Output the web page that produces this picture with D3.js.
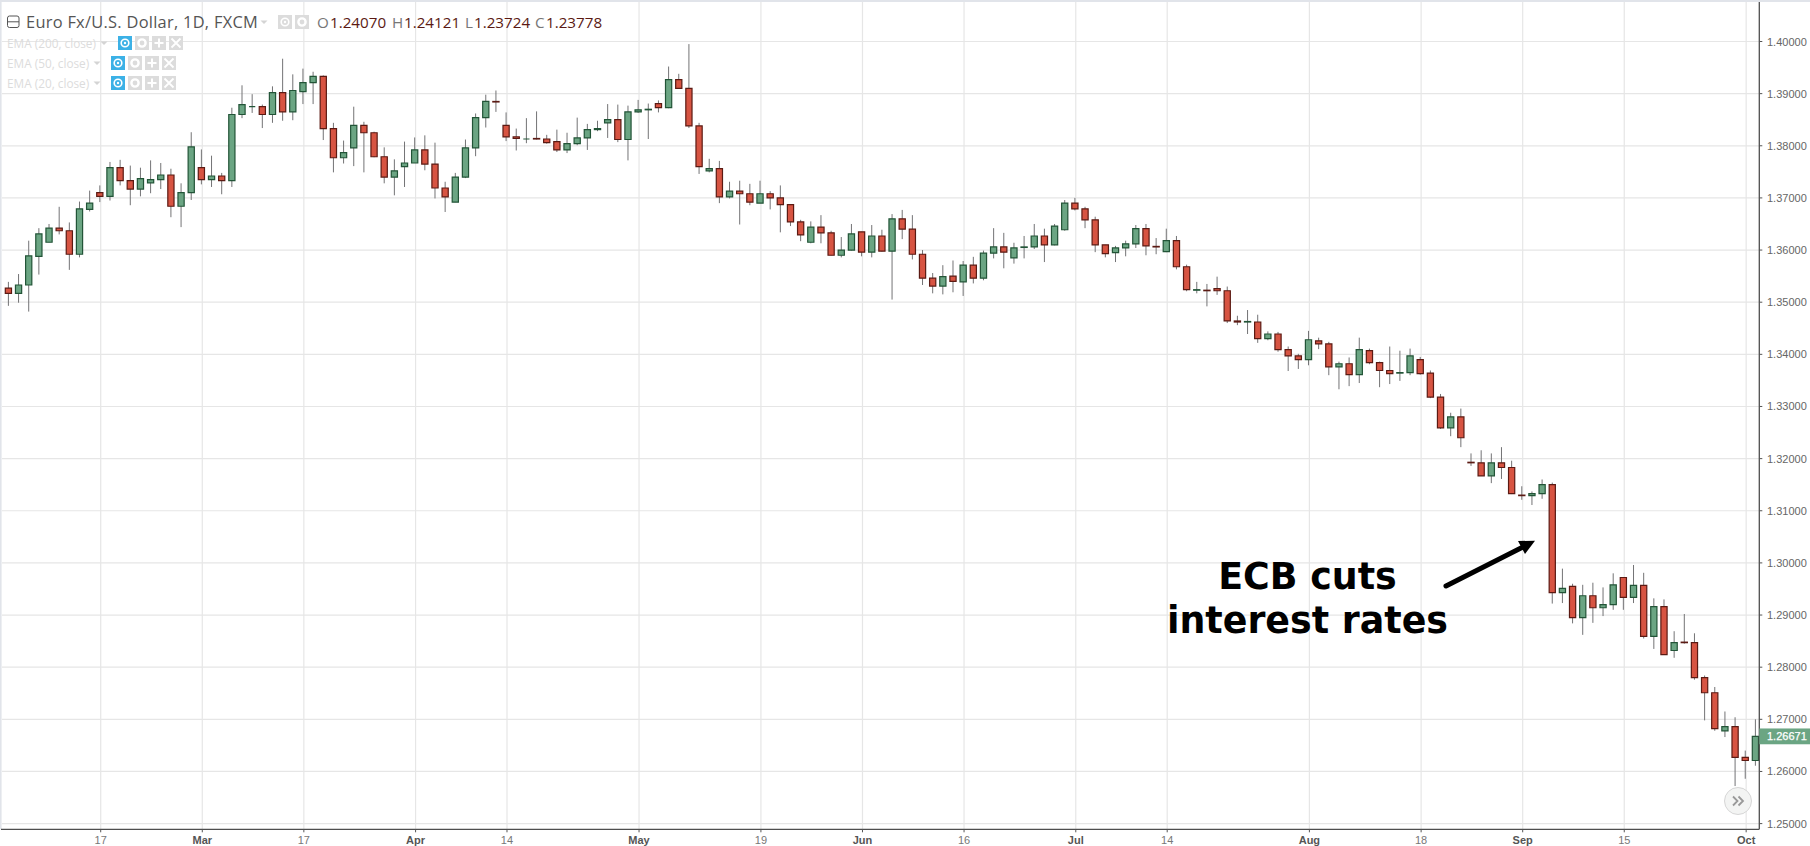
<!DOCTYPE html>
<html><head><meta charset="utf-8">
<style>html,body{margin:0;padding:0;background:#fff;overflow:hidden}svg{display:block}</style>
<script src="https://cdn.jsdelivr.net/npm/d3@7"></script></head><body><div id="c"></div>
<script>
const open=[1.3527,1.3517,1.3533,1.3588,1.3615,1.3642,1.3637,1.3592,1.3678,1.3710,1.3703,1.3758,1.3733,1.3717,1.3729,1.3735,1.3744,1.3684,1.3710,1.3758,1.3735,1.3742,1.3733,1.3860,1.3875,1.3875,1.3860,1.3902,1.3865,1.3904,1.3921,1.3933,1.3833,1.3777,1.3796,1.3839,1.3825,1.3779,1.3740,1.3760,1.3767,1.3792,1.3765,1.3719,1.3692,1.3740,1.3796,1.3854,1.3885,1.3839,1.3817,1.3813,1.3814,1.3813,1.3808,1.3792,1.3804,1.3815,1.3831,1.3844,1.3850,1.3812,1.3865,1.3869,1.3881,1.3873,1.3927,1.3910,1.3838,1.3752,1.3756,1.3702,1.3713,1.3708,1.3690,1.3708,1.3700,1.3687,1.3654,1.3615,1.3644,1.3633,1.3590,1.3600,1.3635,1.3596,1.3627,1.3598,1.3660,1.3640,1.3592,1.3546,1.3531,1.3550,1.3539,1.3571,1.3546,1.3594,1.3606,1.3585,1.3605,1.3606,1.3627,1.3610,1.3639,1.3690,1.3679,1.3658,1.3610,1.3595,1.3604,1.3612,1.3641,1.3607,1.3597,1.3618,1.3568,1.3523,1.3523,1.3526,1.3522,1.3464,1.3462,1.3462,1.3430,1.3439,1.3409,1.3397,1.3390,1.3426,1.3420,1.3376,1.3382,1.3361,1.3407,1.3384,1.3369,1.3364,1.3365,1.3390,1.3364,1.3318,1.3259,1.3280,1.3193,1.3192,1.3167,1.3192,1.3183,1.3130,1.3129,1.3133,1.3150,1.2943,1.2955,1.2895,1.2937,1.2914,1.2920,1.2972,1.2934,1.2957,1.2859,1.2916,1.2832,1.2848,1.2847,1.2780,1.2751,1.2678,1.2686,1.2627,1.2621];
const high=[1.3539,1.3554,1.3618,1.3642,1.3650,1.3683,1.3653,1.3693,1.3714,1.3724,1.3769,1.3773,1.3762,1.3758,1.3772,1.3767,1.3756,1.3728,1.3826,1.3793,1.3781,1.3748,1.3873,1.3916,1.3899,1.3879,1.3914,1.3967,1.3937,1.3948,1.3942,1.3935,1.3844,1.3810,1.3875,1.3846,1.3827,1.3797,1.3774,1.3808,1.3816,1.3820,1.3806,1.3731,1.3748,1.3812,1.3862,1.3898,1.3906,1.3864,1.3833,1.3853,1.3866,1.3821,1.3831,1.3825,1.3854,1.3842,1.3848,1.3880,1.3879,1.3877,1.3888,1.3881,1.3887,1.3952,1.3938,1.3995,1.3844,1.3775,1.3771,1.3731,1.3733,1.3727,1.3733,1.3713,1.3724,1.3687,1.3658,1.3655,1.3667,1.3637,1.3625,1.3650,1.3635,1.3648,1.3639,1.3669,1.3677,1.3667,1.3600,1.3556,1.3571,1.3580,1.3579,1.3587,1.3599,1.3642,1.3633,1.3614,1.3627,1.3650,1.3641,1.3650,1.3696,1.3700,1.3683,1.3664,1.3610,1.3608,1.3618,1.3648,1.3650,1.3623,1.3641,1.3627,1.3572,1.3539,1.3535,1.3549,1.3530,1.3474,1.3485,1.3476,1.3444,1.3443,1.3415,1.3401,1.3445,1.3432,1.3424,1.3386,1.3394,1.3432,1.3411,1.3386,1.3415,1.3407,1.3411,1.3395,1.3369,1.3324,1.3288,1.3296,1.3210,1.3216,1.3210,1.3222,1.3196,1.3147,1.3137,1.3160,1.3154,1.2989,1.2960,1.2958,1.2962,1.2953,1.2980,1.2972,1.2996,1.2981,1.2932,1.2930,1.2869,1.2902,1.2865,1.2784,1.2762,1.2715,1.2704,1.2640,1.2700];
const low=[1.3493,1.3499,1.3482,1.3553,1.3615,1.3630,1.3562,1.3586,1.3674,1.3692,1.3695,1.3724,1.3686,1.3703,1.3709,1.3717,1.3663,1.3644,1.3696,1.3726,1.3721,1.3707,1.3721,1.3853,1.3863,1.3834,1.3844,1.3848,1.3849,1.3880,1.3880,1.3811,1.3749,1.3766,1.3761,1.3749,1.3778,1.3728,1.3705,1.3721,1.3767,1.3753,1.3699,1.3673,1.3692,1.3738,1.3780,1.3835,1.3865,1.3809,1.3791,1.3805,1.3812,1.3804,1.3788,1.3786,1.3801,1.3792,1.3828,1.3815,1.3807,1.3772,1.3863,1.3813,1.3864,1.3872,1.3909,1.3834,1.3746,1.3749,1.3690,1.3699,1.3649,1.3686,1.3690,1.3678,1.3634,1.3646,1.3617,1.3613,1.3613,1.3590,1.3586,1.3599,1.3588,1.3586,1.3597,1.3505,1.3621,1.3582,1.3533,1.3517,1.3515,1.3519,1.3512,1.3536,1.3542,1.3584,1.3565,1.3574,1.3584,1.3602,1.3577,1.3609,1.3637,1.3676,1.3642,1.3596,1.3586,1.3577,1.3588,1.3604,1.3590,1.3592,1.3596,1.3563,1.3521,1.3517,1.3492,1.3514,1.3460,1.3456,1.3439,1.3422,1.3427,1.3405,1.3368,1.3372,1.3379,1.3410,1.3360,1.3333,1.3339,1.3345,1.3381,1.3337,1.3343,1.3349,1.3360,1.3361,1.3316,1.3257,1.3243,1.3222,1.3186,1.3167,1.3153,1.3161,1.3132,1.3121,1.3111,1.3123,1.2922,1.2923,1.2884,1.2862,1.2885,1.2898,1.2910,1.2910,1.2923,1.2855,1.2835,1.2824,1.2818,1.2845,1.2776,1.2698,1.2678,1.2666,1.2572,1.2586,1.2611];
const close=[1.3517,1.3533,1.3589,1.3631,1.3642,1.3637,1.3592,1.3679,1.3690,1.3703,1.3758,1.3733,1.3717,1.3737,1.3735,1.3744,1.3684,1.3710,1.3798,1.3735,1.3742,1.3733,1.3860,1.3879,1.3875,1.3860,1.3902,1.3865,1.3906,1.3921,1.3933,1.3833,1.3777,1.3787,1.3839,1.3825,1.3779,1.3740,1.3752,1.3767,1.3792,1.3765,1.3719,1.3702,1.3740,1.3796,1.3854,1.3885,1.3884,1.3817,1.3814,1.3813,1.3813,1.3806,1.3792,1.3804,1.3815,1.3831,1.3833,1.3850,1.3812,1.3865,1.3869,1.3870,1.3873,1.3927,1.3910,1.3838,1.3760,1.3756,1.3702,1.3713,1.3708,1.3692,1.3708,1.3700,1.3687,1.3654,1.3629,1.3644,1.3633,1.3590,1.3600,1.3631,1.3596,1.3627,1.3598,1.3660,1.3640,1.3592,1.3546,1.3531,1.3549,1.3540,1.3571,1.3546,1.3594,1.3606,1.3596,1.3604,1.3606,1.3627,1.3610,1.3646,1.3690,1.3679,1.3658,1.3610,1.3593,1.3604,1.3612,1.3641,1.3608,1.3606,1.3618,1.3568,1.3524,1.3524,1.3522,1.3522,1.3464,1.3462,1.3463,1.3430,1.3439,1.3409,1.3397,1.3390,1.3428,1.3420,1.3376,1.3382,1.3361,1.3409,1.3384,1.3369,1.3363,1.3365,1.3397,1.3363,1.3318,1.3259,1.3280,1.3240,1.3192,1.3167,1.3192,1.3183,1.3133,1.3129,1.3133,1.3150,1.2943,1.2951,1.2895,1.2937,1.2914,1.2920,1.2958,1.2934,1.2957,1.2859,1.2916,1.2824,1.2847,1.2847,1.2780,1.2751,1.2682,1.2686,1.2627,1.2621,1.26671];
const yTicks=[1.25,1.26,1.27,1.28,1.29,1.30,1.31,1.32,1.33,1.34,1.35,1.36,1.37,1.38,1.39,1.40];
const xTickIndex=[9,19,29,40,49,62,74,84,94,105,114,128,139,149,159,171];
const xTickLabels=["17","Mar","17","Apr","14","May","19","Jun","16","Jul","14","Aug","18","Sep","15","Oct"];
const monthLabels=["Mar","Apr","May","Jun","Jul","Aug","Sep","Oct"];
const legendTitle="Euro Fx/U.S. Dollar, 1D, FXCM";
const ohlcLabels=["O","H","L","C"];
const ohlcValues=["1.24070","1.24121","1.23724","1.23778"];
const emaLabels=["EMA (200, close)","EMA (50, close)","EMA (20, close)"];
const annotation=["ECB cuts","interest rates"];
const lastPrice=1.26671;

const W=1810,H=846,axisX=1759.3,axisY=829.3;
const GREEN="#6ba583",RED="#d75442",GREEN_B="#225437",RED_B="#5b1a13",WICK="#737375";
const SANS="'Liberation Sans',Arial,sans-serif",LEG="'Open Sans',sans-serif";
const svg=d3.select("#c").append("svg").attr("width",W).attr("height",H);
svg.append("rect").attr("width",W).attr("height",H).attr("fill","#fff");
const x=d3.scaleLinear().domain([0,172]).range([8.4,1755.4]);
const y=d3.scaleLinear().domain([1.25,1.40]).range([823.6,41.5]);
const gridOff=0.9;

// grid
svg.append("g").selectAll("line").data(yTicks).join("line")
 .attr("x1",2).attr("x2",axisX).attr("y1",d=>y(d)).attr("y2",d=>y(d))
 .attr("stroke","#e6e6e6").attr("stroke-width",1.2);
svg.append("g").selectAll("line").data(xTickIndex).join("line")
 .attr("x1",d=>x(d)+gridOff).attr("x2",d=>x(d)+gridOff).attr("y1",2).attr("y2",axisY)
 .attr("stroke","#e6e6e6").attr("stroke-width",1.2);

// frame
svg.append("rect").attr("x",0).attr("y",0).attr("width",W).attr("height",2).attr("fill","#e1e4ea");
svg.append("rect").attr("x",0).attr("y",0).attr("width",1.6).attr("height",axisY).attr("fill","#e1e4ea");

// legend underlay drawn before candles
const leg=svg.append("g");
leg.append("rect").attr("x",7.5).attr("y",16).attr("width",11.5).attr("height",11.5).attr("rx",2).attr("fill","none").attr("stroke","#555").attr("stroke-width",1);
leg.append("line").attr("x1",7.5).attr("x2",19).attr("y1",21.8).attr("y2",21.8).attr("stroke","#555");
leg.append("text").attr("x",26).attr("y",27.5).attr("font-family",LEG).attr("font-size",16.4).attr("letter-spacing",0.28).attr("fill","#555").text(legendTitle);
function tri(g,cx,cy){g.append("path").attr("d",`M${cx-3.5},${cy-1.5}H${cx+3.5}L${cx},${cy+2}Z`).attr("fill","#d4d4d4");}
tri(leg,264,22);
function btn(g,bx,by,kind,fill){
  g.append("rect").attr("x",bx).attr("y",by).attr("width",14).attr("height",14).attr("fill",fill);
  const c=[bx+7,by+7],col="#fff";
  if(kind==="eye"){g.append("circle").attr("cx",c[0]).attr("cy",c[1]).attr("r",3.8).attr("fill","none").attr("stroke",col).attr("stroke-width",1.6);
    g.append("circle").attr("cx",c[0]).attr("cy",c[1]).attr("r",1.2).attr("fill",col);}
  if(kind==="gear"){g.append("circle").attr("cx",c[0]).attr("cy",c[1]).attr("r",3.6).attr("fill","none").attr("stroke",col).attr("stroke-width",2.4);}
  if(kind==="plus"){g.append("path").attr("d",`M${c[0]-4.5},${c[1]}H${c[0]+4.5}M${c[0]},${c[1]-4.5}V${c[1]+4.5}`).attr("stroke",col).attr("stroke-width",2);}
  if(kind==="x"){g.append("path").attr("d",`M${c[0]-4.5},${c[1]-4.5}L${c[0]+4.5},${c[1]+4.5}M${c[0]+4.5},${c[1]-4.5}L${c[0]-4.5},${c[1]+4.5}`).attr("stroke",col).attr("stroke-width",1.8);}
}
btn(leg,278,15,"eye","#dcdcdc");btn(leg,295,15,"gear","#dcdcdc");
const ohlcX=[317,392,465,535],digX=[330,404,474,546];
ohlcLabels.forEach((l,i)=>{
  leg.append("text").attr("x",ohlcX[i]).attr("y",27.5).attr("font-family",LEG).attr("font-size",15.2).attr("fill","#777").text(l);
  leg.append("text").attr("x",digX[i]).attr("y",27.5).attr("font-family",LEG).attr("font-size",15.2).attr("fill",RED_B).text(ohlcValues[i]);
});
const emaY=[36,56,76],emaBtn=[118,111,111],emaTri=[104,97,97];
emaLabels.forEach((l,i)=>{
  leg.append("text").attr("x",7).attr("y",emaY[i]+11.5).attr("font-family",LEG).attr("font-size",11.8).attr("fill","#dcdcdc").text(l);
  tri(leg,emaTri[i],emaY[i]+7);
  btn(leg,emaBtn[i],emaY[i],"eye","#3cb1e6");
  btn(leg,emaBtn[i]+17,emaY[i],"gear","#dcdcdc");
  btn(leg,emaBtn[i]+34,emaY[i],"plus","#dcdcdc");
  btn(leg,emaBtn[i]+51,emaY[i],"x","#dcdcdc");
});

// candles
const idx=d3.range(open.length);
const up=i=>close[i]>=open[i];
const g=svg.append("g");
g.selectAll("line").data(idx).join("line")
 .attr("x1",i=>x(i)).attr("x2",i=>x(i)).attr("y1",i=>y(high[i])).attr("y2",i=>y(low[i]))
 .attr("stroke",WICK).attr("stroke-width",1);
const hw=3.1;
g.selectAll("path").data(idx).join("path")
 .attr("d",i=>{const t=y(Math.max(open[i],close[i])),b=y(Math.min(open[i],close[i]));
   return `M${x(i)-hw},${t}H${x(i)+hw}V${b}H${x(i)-hw}Z`;})
 .attr("fill",i=>up(i)?GREEN:RED).attr("stroke",i=>up(i)?GREEN_B:RED_B).attr("stroke-width",1.2);

// axes
svg.append("line").attr("x1",axisX).attr("x2",axisX).attr("y1",2).attr("y2",axisY).attr("stroke","#4e4e4e").attr("stroke-width",1.3);
svg.append("line").attr("x1",1).attr("x2",axisX).attr("y1",axisY).attr("y2",axisY).attr("stroke","#4e4e4e").attr("stroke-width",1.3);
svg.append("g").selectAll("line").data(yTicks).join("line")
 .attr("x1",axisX).attr("x2",axisX+3).attr("y1",d=>y(d)).attr("y2",d=>y(d)).attr("stroke","#555");
svg.append("g").selectAll("text").data(yTicks).join("text")
 .attr("x",1767).attr("y",d=>y(d)+4).attr("font-family",SANS).attr("font-size",11).attr("fill","#666")
 .text(d=>d3.format(".5f")(d));
svg.append("g").selectAll("line").data(xTickIndex).join("line")
 .attr("x1",d=>x(d)+gridOff).attr("x2",d=>x(d)+gridOff).attr("y1",axisY).attr("y2",axisY+3).attr("stroke","#555");
svg.append("g").selectAll("text").data(xTickIndex).join("text")
 .attr("x",d=>x(d)+gridOff).attr("y",844).attr("text-anchor","middle").attr("font-family",SANS).attr("font-size",11)
 .attr("font-weight",(d,i)=>monthLabels.includes(xTickLabels[i])?"bold":"normal")
 .attr("fill",(d,i)=>monthLabels.includes(xTickLabels[i])?"#555":"#777")
 .text((d,i)=>xTickLabels[i]);

// last price tag
svg.append("rect").attr("x",axisX).attr("y",y(lastPrice)-8).attr("width",W-axisX).attr("height",15.8).attr("fill",GREEN);
svg.append("text").attr("x",1767).attr("y",y(lastPrice)+4).attr("font-family",SANS).attr("font-size",11).attr("fill","#fff").attr("stroke","#fff").attr("stroke-width",0.25).text(d3.format(".5f")(lastPrice));

// scroll button
svg.append("circle").attr("cx",1738).attr("cy",801).attr("r",13.5).attr("fill","#f3f4f3").attr("stroke","#d6d6d6").attr("stroke-width",1);
svg.append("path").attr("d","M1733,796.5l4.5,4.5l-4.5,4.5M1738.5,796.5l4.5,4.5l-4.5,4.5").attr("fill","none").attr("stroke","#999").attr("stroke-width",1.8);

// annotation
const ann=svg.append("g").attr("font-family","'DejaVu Sans'").attr("font-weight","bold").attr("font-size",36.4).attr("fill","#000").attr("text-anchor","middle");
annotation.forEach((t,i)=>ann.append("text").attr("x",1307.5).attr("y",589+44*i).text(t));
svg.append("line").attr("x1",1446).attr("y1",586).attr("x2",1526).attr("y2",545.5).attr("stroke","#000").attr("stroke-width",5).attr("stroke-linecap","round");
svg.append("path").attr("d","M1535,540.7L1518,541L1525,554Z").attr("fill","#000");
</script></body></html>
